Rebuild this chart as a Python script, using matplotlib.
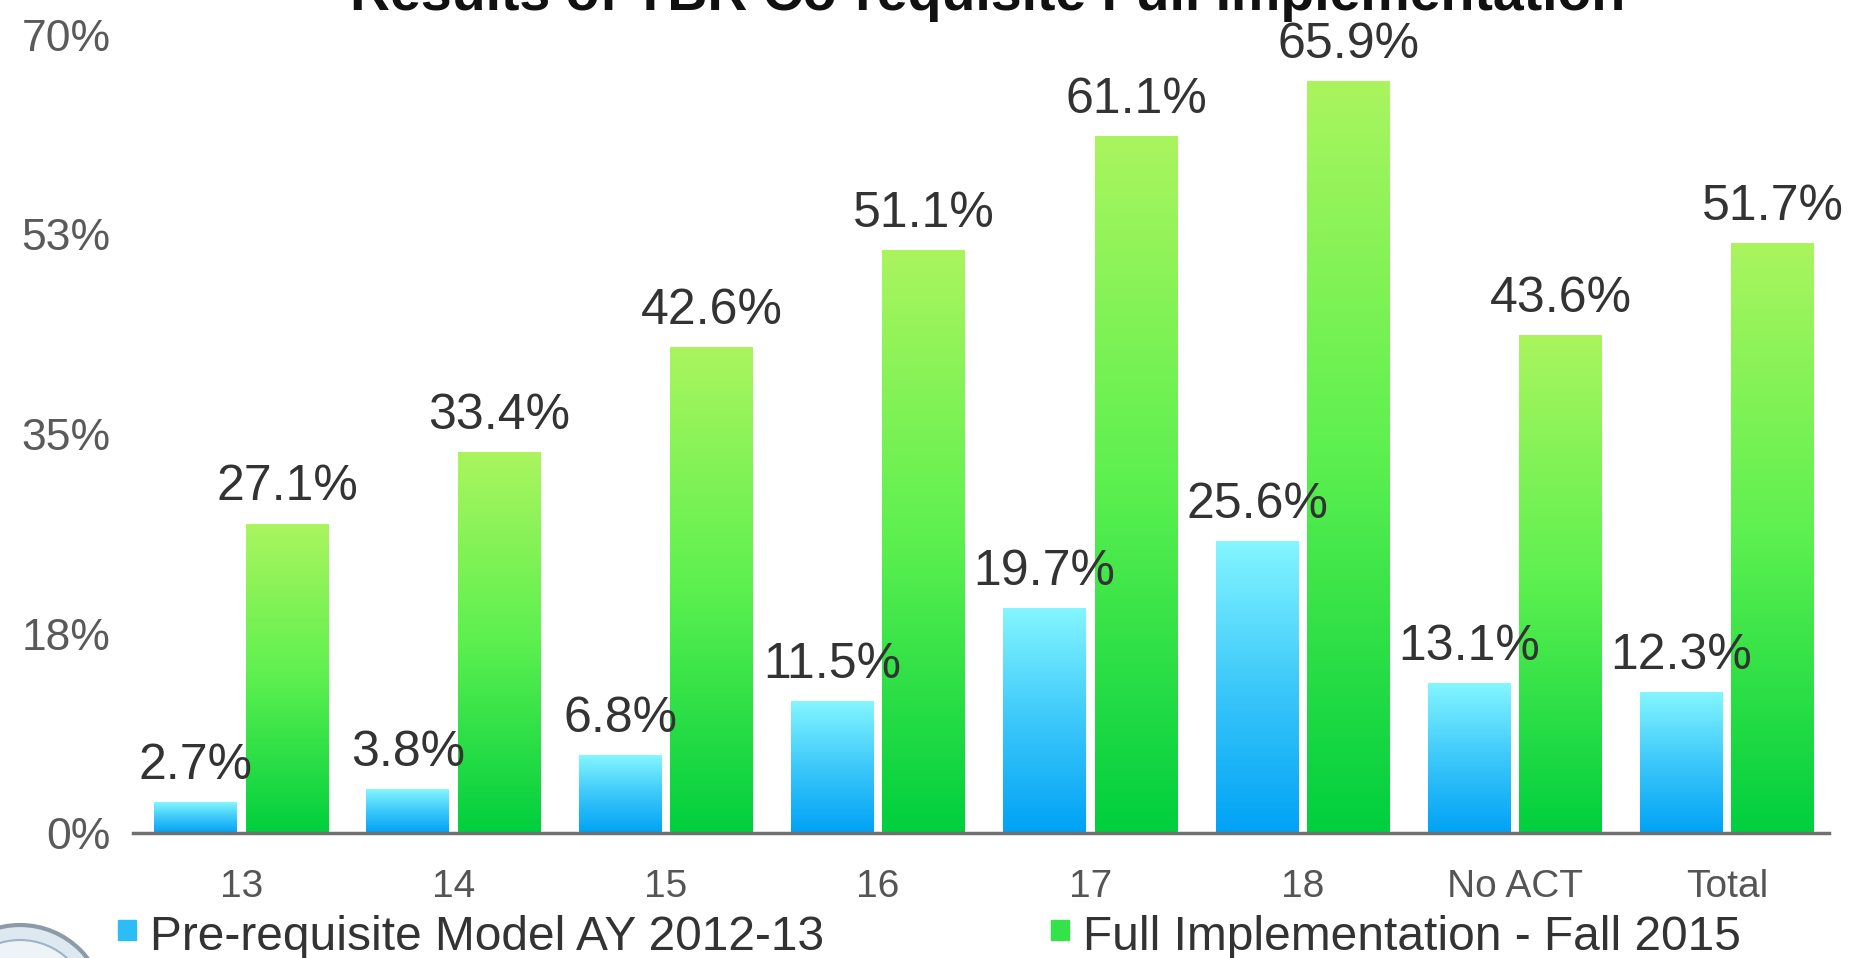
import numpy as np
import matplotlib
matplotlib.use("Agg")
import matplotlib.pyplot as plt
from matplotlib.colors import LinearSegmentedColormap
from matplotlib.patches import Rectangle, Ellipse

plt.rcParams['font.family'] = ['Liberation Sans', 'DejaVu Sans']

# data
categories = ['13', '14', '15', '16', '17', '18', 'No ACT', 'Total']
prereq = [2.7, 3.8, 6.8, 11.5, 19.7, 25.6, 13.1, 12.3]
full_impl = [27.1, 33.4, 42.6, 51.1, 61.1, 65.9, 43.6, 51.7]
series_names = ['Pre-requisite Model AY 2012-13', 'Full Implementation - Fall 2015']
yticks = [0, 17.5, 35, 52.5, 70]
ytick_labels = ['0%', '18%', '35%', '53%', '70%']
title = 'Results of TBR Co-requisite Full Implementation'

W, H = 1850, 958
fig = plt.figure(figsize=(W / 100, H / 100), dpi=100)
fig.patch.set_facecolor('white')
ax = fig.add_axes([133 / W, 1 - 833 / H, (1829 - 133) / W, (833 - 35) / H])

blue_cmap = LinearSegmentedColormap.from_list('b', ['#00a2f5', '#3cc8fa', '#84f6ff'])
green_cmap = LinearSegmentedColormap.from_list('g', ['#00cf3e', '#5cf04f', '#aaf55e'])

x = np.arange(len(categories))
bw = 0.39
off = 0.215
b1 = ax.bar(x - off, prereq, bw, color='#3cc8fa', zorder=1)
b2 = ax.bar(x + off, full_impl, bw, color='#5cf04f', zorder=1)

# vertical gradient fill inside each bar
grad = np.linspace(0, 1, 256).reshape(-1, 1)
for bars, cm in [(b1, blue_cmap), (b2, green_cmap)]:
    for r in bars:
        x0 = r.get_x()
        ax.imshow(grad, extent=[x0, x0 + r.get_width(), 0, r.get_height()],
                  origin='lower', aspect='auto', cmap=cm, zorder=2,
                  interpolation='bilinear')

for bars, vals in [(b1, prereq), (b2, full_impl)]:
    for r, v in zip(bars, vals):
        ax.annotate('%.1f%%' % v, (r.get_x() + r.get_width() / 2, v),
                    xytext=(0, 17), textcoords='offset points',
                    ha='center', va='baseline', fontsize=36, color='#333333')

ax.set_xlim(-0.51, 7.48)
ax.set_ylim(0, 70)
ax.set_xticks(x)
ax.set_xticklabels(categories)
ax.set_yticks(yticks)
ax.set_yticklabels(ytick_labels)
ax.tick_params(axis='x', length=0, pad=26, labelsize=28, labelcolor='#555555')
ax.tick_params(axis='y', length=0, pad=16, labelsize=32, labelcolor='#5a5a5a')
for s in ['top', 'right', 'left']:
    ax.spines[s].set_visible(False)
ax.spines['bottom'].set_color('#707070')
ax.spines['bottom'].set_linewidth(2.5)
ax.spines['bottom'].set_zorder(3)
ax.set_facecolor('white')

# title, cut off by the top edge as in the screenshot
fig.text(0.534, 1 - 10 / H, title, ha='center', va='baseline',
         fontsize=40, fontweight='bold', color='#111111')

# legend along the bottom
leg_x = [150, 1083]
leg_col = ['#2cbcf6', '#34e24a']
for name, lx, c in zip(series_names, leg_x, leg_col):
    fig.add_artist(Rectangle(((lx - 32) / W, 1 - 940 / H), 18 / W, 20 / H,
                             transform=fig.transFigure, color=c))
    fig.text(lx / W, 1 - 950 / H, name, ha='left', va='baseline',
             fontsize=34.5, color='#333333')

# seal in the corner
fig.add_artist(Ellipse((20 / W, 1 - 1010 / H), 170 / W, 170 / H,
                       transform=fig.transFigure, facecolor='#dde8f0',
                       edgecolor='#8d9ba8', lw=3))
fig.add_artist(Ellipse((20 / W, 1 - 1010 / H), 140 / W, 140 / H,
                       transform=fig.transFigure, facecolor='#eef3f7',
                       edgecolor='#9fb4c6', lw=1.5))

fig.savefig('out.png', dpi=100)
